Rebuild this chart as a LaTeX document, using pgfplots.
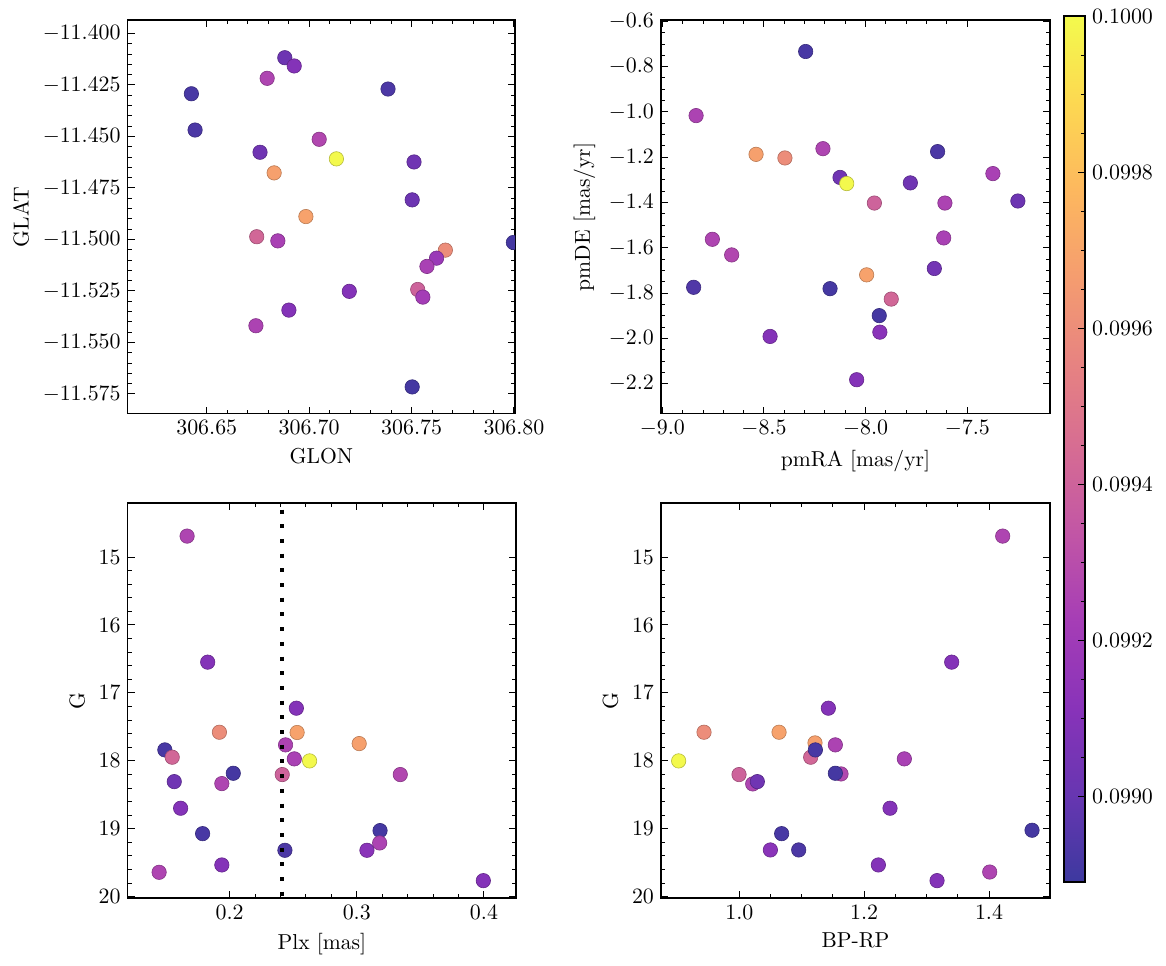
\documentclass[border=0pt]{standalone}
\usepackage{pgfplots}
\pgfplotsset{compat=1.18}
\usepackage{pgfplotstable}

\newcommand{\lblfont}{\fontsize{10.8}{13}\selectfont}
\pgfplotsset{
  colormap={plasmalight}{rgb255=(61,57,159) rgb255=(103,54,177) rgb255=(136,51,185) rgb255=(165,61,182) rgb255=(193,85,166) rgb255=(214,108,147) rgb255=(231,131,129) rgb255=(245,157,111) rgb255=(253,184,94) rgb255=(253,216,81) rgb255=(243,250,77)},
  panel/.style={
    scale only axis, anchor=north west,
    colormap name=plasmalight, point meta min=0.09889, point meta max=0.100001,
    tick align=inside,
    major tick length=3.5pt, minor tick length=2pt,
    every tick/.style={black, line width=0.5pt},
    axis line style={line width=0.6pt},
    clip marker paths=true,
    scaled ticks=false,
    tick label style={font=\lblfont},
    label style={font=\lblfont},
  },
  pts/.style={scatter, only marks, mark=*, mark size=3.6pt, scatter src=explicit,
    scatter/use mapped color={draw=mapped color!75!black, fill=mapped color},
    mark options={line width=0.3pt}},
}

\pgfplotstableread{
x y c
306.6425 -11.4293 0.09892
306.6443 -11.4469 0.09893
306.6881 -11.4118 0.09902
306.6927 -11.4158 0.09910
306.6795 -11.4218 0.09926
306.7385 -11.4270 0.09893
306.7049 -11.4514 0.09927
306.6760 -11.4577 0.09903
306.7133 -11.4609 0.10000
306.7512 -11.4624 0.09903
306.6829 -11.4677 0.09968
306.7503 -11.4808 0.09902
306.6984 -11.4889 0.09969
306.6744 -11.4987 0.09942
306.6847 -11.5007 0.09924
306.7997 -11.5015 0.09891
306.7665 -11.5052 0.09960
306.7622 -11.5091 0.09918
306.7575 -11.5131 0.09924
306.7530 -11.5243 0.09940
306.7555 -11.5280 0.09922
306.7196 -11.5252 0.09910
306.6901 -11.5343 0.09910
306.6740 -11.5419 0.09925
306.7503 -11.5716 0.09891
}\tl

\pgfplotstableread{
x y c
-8.295 -0.733 0.09892
-8.834 -1.016 0.09925
-8.539 -1.187 0.09968
-8.397 -1.203 0.09960
-8.210 -1.162 0.09926
-7.646 -1.175 0.09893
-8.126 -1.289 0.09903
-8.093 -1.316 0.10000
-7.780 -1.313 0.09903
-7.374 -1.272 0.09924
-7.957 -1.402 0.09940
-7.610 -1.402 0.09925
-7.251 -1.393 0.09902
-8.754 -1.562 0.09926
-8.659 -1.631 0.09927
-7.616 -1.556 0.09924
-8.846 -1.774 0.09894
-8.175 -1.780 0.09891
-7.995 -1.719 0.09969
-7.662 -1.691 0.09904
-7.874 -1.826 0.09942
-7.933 -1.899 0.09891
-7.930 -1.972 0.09912
-8.470 -1.991 0.09910
-8.044 -2.182 0.09910
}\tr

\pgfplotstableread{
x y c
0.1666 14.691 0.09926
0.1828 16.547 0.09910
0.2525 17.225 0.09910
0.1920 17.579 0.09960
0.2531 17.583 0.09969
0.3019 17.746 0.09968
0.2440 17.765 0.09925
0.1491 17.839 0.09892
0.1549 17.947 0.09942
0.2509 17.971 0.09924
0.2629 18.001 0.10000
0.2029 18.183 0.09891
0.2414 18.202 0.09940
0.3342 18.202 0.09927
0.1565 18.306 0.09903
0.1939 18.335 0.09926
0.1615 18.698 0.09910
0.3183 19.027 0.09891
0.1788 19.072 0.09892
0.3180 19.209 0.09925
0.2435 19.317 0.09893
0.3080 19.317 0.09912
0.1939 19.533 0.09910
0.1446 19.641 0.09926
0.3995 19.764 0.09910
}\bl

\pgfplotstableread{
x y c
1.4219 14.691 0.09926
1.3402 16.547 0.09910
1.1426 17.225 0.09910
0.9434 17.579 0.09960
1.0636 17.579 0.09969
1.1212 17.736 0.09968
1.1538 17.765 0.09925
1.1143 17.947 0.09942
1.1218 17.839 0.09892
1.2643 17.971 0.09924
0.9028 18.001 0.10000
1.1629 18.193 0.09927
1.1538 18.183 0.09891
0.9995 18.202 0.09940
1.0214 18.340 0.09926
1.0288 18.306 0.09903
1.2414 18.698 0.09910
1.4689 19.022 0.09891
1.0678 19.072 0.09892
1.0497 19.312 0.09912
1.0951 19.312 0.09893
1.2227 19.533 0.09910
1.4011 19.637 0.09926
1.3167 19.764 0.09910
}\br

\begin{document}
\begin{tikzpicture}
\useasboundingbox (0,0) rectangle (583pt,-482.5pt);

% top left
\begin{axis}[panel, at={(63.85pt,-10pt)}, width=193.65pt, height=196.85pt,
  xmin=306.6114, xmax=306.8005, ymin=-11.5846, ymax=-11.3935,
  xtick={306.65,306.70,306.75,306.80}, minor x tick num=4,
  ytick={-11.575,-11.55,-11.525,-11.5,-11.475,-11.45,-11.425,-11.4}, minor y tick num=4,
  xticklabel style={/pgf/number format/.cd, fixed, fixed zerofill, precision=2},
  yticklabel style={/pgf/number format/.cd, fixed, fixed zerofill, precision=3},
  xlabel={GLON}, ylabel={GLAT}]
\addplot[pts] table[x=x, y=y, meta=c] {\tl};
\end{axis}

% top right
\begin{axis}[panel, name=tr, at={(330.5pt,-10pt)}, width=194.5pt, height=196.85pt,
  xmin=-9.0066, xmax=-7.093, ymin=-2.332, ymax=-0.594,
  xtick={-9,-8.5,-8,-7.5}, minor x tick num=4,
  ytick={-2.2,-2,-1.8,-1.6,-1.4,-1.2,-1,-0.8,-0.6}, minor y tick num=3,
  xticklabel style={/pgf/number format/.cd, fixed, fixed zerofill, precision=1},
  yticklabel style={/pgf/number format/.cd, fixed, fixed zerofill, precision=1},
  xlabel={pmRA [mas/yr]}, ylabel={pmDE [mas/yr]},
  colorbar, colorbar shift/.style={xshift=0pt},
  colorbar style={
    at={(parent axis.north east)}, anchor=north west,
    xshift=7pt, yshift=2pt,
    scale only axis, width=10.5pt, height=433pt,
    ytick={0.0990,0.0992,0.0994,0.0996,0.0998,0.1000},
    minor y tick num=3,
    ytick align=inside, ytick pos=right, yticklabel pos=right,
    major tick length=3.5pt, minor tick length=2pt,
    every tick/.style={black, line width=0.5pt},
    axis line style={line width=0.6pt},
    scaled y ticks=false,
    tick label style={font=\lblfont},
    yticklabel style={/pgf/number format/.cd, fixed, fixed zerofill, precision=4},
  }]
\addplot[pts] table[x=x, y=y, meta=c] {\tr};
\end{axis}

% bottom left
\begin{axis}[panel, at={(63.85pt,-251.5pt)}, width=194.15pt, height=197.5pt,
  xmin=0.1199, xmax=0.4252, ymin=14.204, ymax=20.02, y dir=reverse,
  xtick={0.2,0.3,0.4}, minor x tick num=4,
  ytick={15,16,17,18,19,20}, minor y tick num=4,
  xticklabel style={/pgf/number format/.cd, fixed, fixed zerofill, precision=1},
  xlabel={Plx [mas]}, ylabel={G}]
\addplot[pts] table[x=x, y=y, meta=c] {\bl};
\addplot[black, line width=2pt, dash pattern=on 2pt off 5.35pt] coordinates {(0.2416,14.30) (0.2416,20.02)};
\end{axis}

% bottom right
\begin{axis}[panel, at={(330.5pt,-251.5pt)}, width=194.5pt, height=197.5pt,
  xmin=0.8745, xmax=1.4977, ymin=14.204, ymax=20.02, y dir=reverse,
  xtick={1.0,1.2,1.4}, minor x tick num=3,
  ytick={15,16,17,18,19,20}, minor y tick num=4,
  xticklabel style={/pgf/number format/.cd, fixed, fixed zerofill, precision=1},
  xlabel={BP-RP}, ylabel={G}]
\addplot[pts] table[x=x, y=y, meta=c] {\br};
\end{axis}
\end{tikzpicture}
\end{document}
